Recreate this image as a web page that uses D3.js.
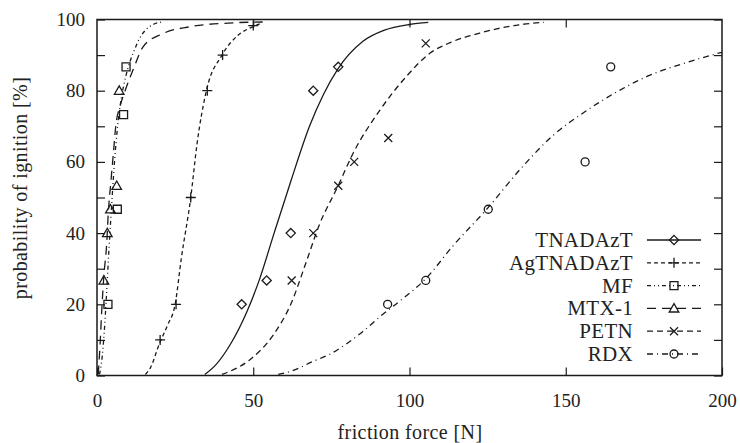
<!DOCTYPE html>
<html lang="en">
<head>
<meta charset="utf-8">
<script src="https://d3js.org/d3.v7.min.js"></script>
<style>
  body { margin: 0; background: #fff; }
</style>
</head>
<body>
<div id="chart"></div>
<script>
// names, marker shapes, dash styles
var names = ["TNADAzT", "AgTNADAzT", "MF", "MTX-1", "PETN", "RDX"];
var markers = ["diamond", "plus", "square", "triangle", "cross", "circle"];
var dashes = [null, "4,3", "4,3,1,3,1,3", "9,6", "6,4", "6,4,1,4"];

// measured points [friction force N, probability %]
var tnadaztPts = [[46.3, 20], [54.3, 26.7], [62, 40], [69.2, 80], [77.2, 86.7]];
var agPts = [[20.2, 10], [25.3, 20], [30, 50], [35.3, 80], [40.2, 90], [50, 98.3]];
var mfPts = [[3.5, 20], [6.5, 46.7], [8.5, 73.3], [9.3, 86.7]];
var mtxPts = [[2.2, 26.7], [3.3, 40], [4.3, 46.7], [6.3, 53.3], [7.1, 80]];
var petnPts = [[62.3, 26.7], [69.2, 40], [77.2, 53.3], [82.3, 60], [93.2, 66.7], [105.2, 93.3]];
var rdxPts = [[93, 20], [105.2, 26.7], [125.2, 46.7], [156.2, 60], [164.4, 86.7]];

// fitted curves
var tnadaztFit = [[34.5, 0.3], [38, 3], [42.5, 8.5], [48, 18], [52, 27], [56.5, 39.5], [62, 54.5],
  [68, 70], [72.5, 79], [77, 86], [85, 93.8], [92, 97], [100, 98.6], [106, 99.2]];
var agFit = [[15.5, 0.3], [17, 2], [20, 9], [22.5, 14], [25, 20], [27, 33], [30, 50], [32, 65],
  [35, 80], [40, 90], [45, 95.5], [50, 98], [53, 99.1]];
var mfFit = [[0.8, 0.3], [1.5, 4], [2.3, 12], [3, 22], [3.8, 35], [4.7, 48], [5.6, 60], [6.6, 70],
  [7.8, 78], [9.2, 84], [10.5, 88], [12, 91.5], [13.5, 94.5], [15.5, 97], [18, 98.6], [21, 99.3]];
var mtxFit = [[0.4, 0.3], [1, 9], [1.5, 18], [2.2, 28], [3.1, 37], [3.6, 45.5], [4.4, 54], [5.2, 62],
  [6, 70], [7.5, 76], [9, 80], [11.6, 86], [14.8, 92.4], [21, 96], [30, 98], [42, 99], [53, 99.3]];
var petnFit = [[40, 0.3], [49, 4.5], [56.5, 11.5], [62, 20], [67, 32], [71, 42], [77, 53], [82, 62.5],
  [90.5, 74.5], [99, 84], [106.5, 90.5], [113, 93.5], [122.5, 96.2], [135, 98.5], [143, 99.2]];
var rdxFit = [[58, 0.3], [63, 1.5], [69, 3.9], [75, 6.2], [80, 9], [85, 12.3], [90.5, 16.5], [97, 21],
  [105, 27], [114, 36.5], [125, 47], [135.5, 58], [146, 67.5], [156, 74], [166, 79.5], [176, 84],
  [189, 88], [200, 90.8]];

var xTicks = [0, 50, 100, 150, 200];
var yTicks = [0, 10, 20, 30, 40, 50, 60, 70, 80, 90, 100];

var points = [tnadaztPts, agPts, mfPts, mtxPts, petnPts, rdxPts];
var fits = [tnadaztFit, agFit, mfFit, mtxFit, petnFit, rdxFit];

var width = 740, height = 443;
var plotL = 97, plotR = 722, plotT = 19.5, plotB = 375.5;
var ink = "#1a1a1a";
var serif = "'Liberation Serif', 'Times New Roman', serif";

var x = d3.scaleLinear().domain([0, 200]).range([plotL, plotR]);
var y = d3.scaleLinear().domain([0, 100]).range([plotB, plotT]);

var svg = d3.select("#chart").append("svg")
  .attr("width", width)
  .attr("height", height);

svg.append("clipPath").attr("id", "plot")
  .append("rect")
  .attr("x", plotL).attr("y", plotT)
  .attr("width", plotR - plotL).attr("height", plotB - plotT);

// marker shapes
function shape(type, g) {
  var s;
  if (type == "diamond") {
    s = 4.6;
    g.append("path").attr("d", "M0," + (-s) + "L" + s + ",0L0," + s + "L" + (-s) + ",0Z");
  } else if (type == "plus") {
    s = 5;
    g.append("path").attr("d", "M" + (-s) + ",0H" + s + "M0," + (-s) + "V" + s);
  } else if (type == "square") {
    s = 4;
    g.append("path").attr("d", "M" + (-s) + "," + (-s) + "H" + s + "V" + s + "H" + (-s) + "Z");
  } else if (type == "triangle") {
    s = 4.8;
    g.append("path").attr("d", "M0," + (-s) + "L" + s + "," + (s * 0.75) + "H" + (-s) + "Z");
  } else if (type == "cross") {
    s = 4;
    g.append("path").attr("d", "M" + (-s) + "," + (-s) + "L" + s + "," + s + "M" + s + "," + (-s) + "L" + (-s) + "," + s);
  } else {
    g.append("circle").attr("r", 4);
  }
  g.selectAll("path, circle")
    .attr("fill", "none")
    .attr("stroke", ink)
    .attr("stroke-width", 1.3);
}

/* axes (ticks point inward) */
svg.append("g")
  .attr("transform", "translate(0," + plotB + ")")
  .call(d3.axisBottom(x).tickValues(xTicks).tickSizeInner(-8).tickSizeOuter(0).tickPadding(18))
  .call(g => g.select(".domain").remove());

svg.append("g")
  .attr("transform", "translate(0," + plotT + ")")
  .call(d3.axisTop(x).tickValues([50, 100, 150]).tickSizeInner(-8).tickSizeOuter(0).tickFormat(""))
  .call(g => g.select(".domain").remove());

svg.append("g")
  .attr("transform", "translate(" + plotL + ",0)")
  .call(d3.axisLeft(y).tickValues(yTicks).tickSizeInner(-8).tickSizeOuter(0).tickPadding(12)
    .tickFormat(d => d % 20 == 0 ? d : ""))
  .call(g => g.select(".domain").remove());

svg.append("g")
  .attr("transform", "translate(" + plotR + ",0)")
  .call(d3.axisRight(y).tickValues(yTicks).tickSizeInner(-8).tickSizeOuter(0).tickFormat(""))
  .call(g => g.select(".domain").remove());

svg.selectAll(".tick line").attr("stroke", ink).attr("stroke-width", 1.2);
svg.selectAll(".tick text")
  .style("font-family", serif)
  .style("font-size", "19px")
  .attr("fill", "#222");

svg.append("rect")
  .attr("x", plotL).attr("y", plotT)
  .attr("width", plotR - plotL).attr("height", plotB - plotT)
  .attr("fill", "none")
  .attr("stroke", ink)
  .attr("stroke-width", 1.5);

/* fitted curves */
var line = d3.line()
  .x(d => x(d[0]))
  .y(d => y(d[1]))
  .curve(d3.curveMonotoneX);

svg.append("g").attr("clip-path", "url(#plot)")
  .selectAll("path")
  .data(fits).enter()
  .append("path")
  .attr("d", line)
  .attr("fill", "none")
  .attr("stroke", ink)
  .attr("stroke-width", 1.3)
  .attr("stroke-dasharray", (d, i) => dashes[i]);

/* measured points */
points.forEach(function(pts, i) {
  svg.append("g").selectAll("g")
    .data(pts).enter()
    .append("g")
    .attr("transform", d => "translate(" + x(d[0]) + "," + y(d[1]) + ")")
    .each(function() { shape(markers[i], d3.select(this)); });
});

/* legend */
var legend = svg.append("g");
names.forEach(function(name, i) {
  var ly = 240 + i * 22.8;
  legend.append("text")
    .attr("x", 633)
    .attr("y", ly + 7)
    .attr("text-anchor", "end")
    .style("font-family", serif)
    .style("font-size", "21px")
    .style("letter-spacing", "0.3px")
    .attr("fill", "#222")
    .text(name);
  legend.append("line")
    .attr("x1", 647).attr("x2", 701)
    .attr("y1", ly).attr("y2", ly)
    .attr("stroke", ink)
    .attr("stroke-width", 1.3)
    .attr("stroke-dasharray", dashes[i]);
  shape(markers[i], legend.append("g")
    .attr("transform", "translate(674," + ly + ")"));
});

/* axis titles */
svg.append("text")
  .attr("x", 410)
  .attr("y", 439)
  .attr("text-anchor", "middle")
  .style("font-family", serif)
  .style("font-size", "20px")
  .style("letter-spacing", "0.4px")
  .attr("fill", "#222")
  .text("friction force [N]");

svg.append("text")
  .attr("transform", "translate(27,188) rotate(-90)")
  .attr("text-anchor", "middle")
  .style("font-family", serif)
  .style("font-size", "20px")
  .style("letter-spacing", "0.4px")
  .attr("fill", "#222")
  .text("probability of ignition [%]");
</script>
</body>
</html>
